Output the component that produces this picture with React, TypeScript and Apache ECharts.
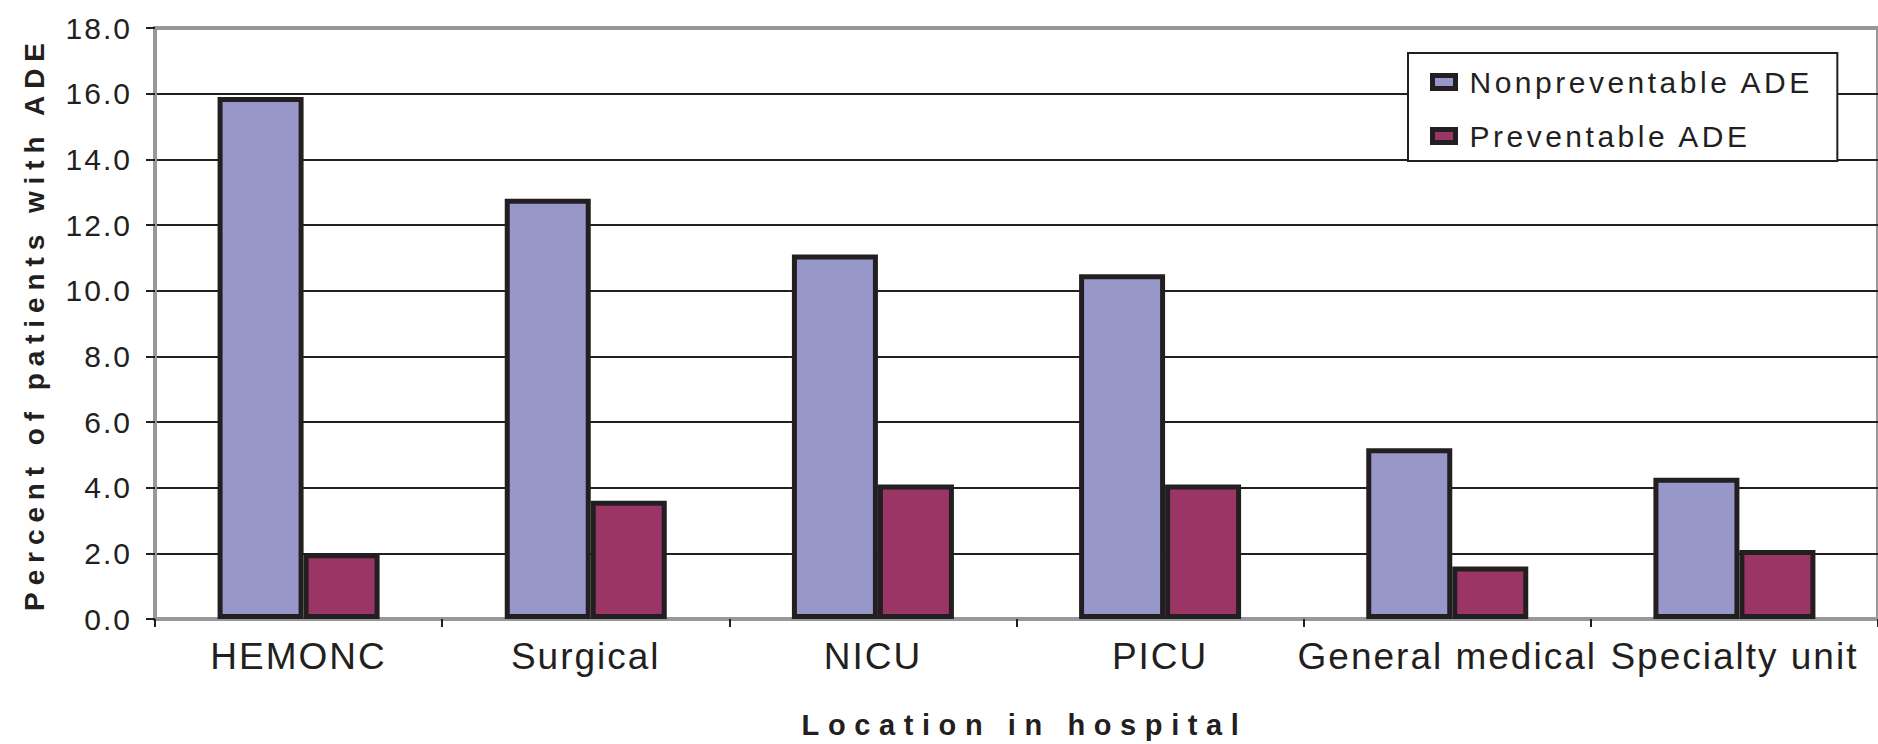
import { useEffect, useRef } from "react";
import * as echarts from "echarts";

// Hospital locations and ADE rates (% of patients)
const locations = ["HEMONC", "Surgical", "NICU", "PICU", "General medical", "Specialty unit"];
const nonpreventable = [15.9, 12.8, 11.1, 10.5, 5.2, 4.3];
const preventable = [2.0, 3.6, 4.1, 4.1, 1.6, 2.1];
const seriesNames = ["Nonpreventable ADE", "Preventable ADE"];
const yMin = 0;
const yMax = 18;
const yStep = 2;
const yTitle = "Percent of patients with ADE";
const xTitle = "Location in hospital";

const INK = "#231f20";
const GREY = "#98989a";
const FONT = "'Liberation Sans', Arial, Helvetica, sans-serif";

// Extra tracking for the SVG text nodes (ECharts has no letter-spacing option)
function trackingFor(t: string): number {
  if (t === yTitle) return 6.9;
  if (t === xTitle) return 8.6;
  if (seriesNames.includes(t)) return 3.5;
  if (locations.includes(t)) return 2;
  if (/^\d+\.\d$/.test(t)) return 2;
  return 0;
}

export default function App() {
  const ref = useRef<HTMLDivElement>(null);

  useEffect(() => {
    if (!ref.current) return;
    const chart = echarts.init(ref.current, undefined, { renderer: "svg" });

    const gridLineCount = Math.round((yMax - yMin) / yStep) + 1;
    const splitColors = Array.from({ length: gridLineCount }, (_, i) =>
      i === gridLineCount - 1 ? GREY : INK
    );

    chart.setOption({
      animation: false,
      backgroundColor: "#ffffff",
      textStyle: { fontFamily: FONT, color: INK },
      grid: {
        left: 155,
        right: -9,
        top: 28,
        bottom: 123,
        show: true,
        borderColor: GREY,
        borderWidth: 4,
        backgroundColor: "transparent",
      },
      legend: {
        orient: "vertical",
        left: 1408,
        top: 53,
        data: seriesNames,
        icon: "rect",
        itemWidth: 23,
        itemHeight: 13,
        itemGap: 24,
        padding: [14, 86, 10, 22],
        backgroundColor: "#ffffff",
        borderColor: INK,
        borderWidth: 2,
        borderRadius: 0,
        itemStyle: { borderColor: INK, borderWidth: 5 },
        textStyle: { fontSize: 30, fontFamily: FONT, color: INK, padding: [0, 0, 0, 9] },
      },
      xAxis: {
        type: "category",
        data: locations,
        offset: 3,
        axisLine: { show: true, lineStyle: { color: GREY, width: 3 } },
        axisTick: { show: true, length: 8, lineStyle: { color: INK, width: 2 } },
        axisLabel: { interval: 0, fontSize: 37, fontFamily: FONT, color: INK, margin: 16 },
        splitLine: { show: false },
        name: xTitle,
        nameLocation: "middle",
        nameGap: 88,
        nameTextStyle: {
          fontSize: 29,
          fontWeight: "bold",
          fontFamily: FONT,
          color: INK,
          padding: [0, 0, 0, 16],
        },
      },
      yAxis: {
        type: "value",
        min: yMin,
        max: yMax,
        interval: yStep,
        axisLine: { show: true, lineStyle: { color: GREY, width: 3 } },
        axisTick: { show: true, length: 9, lineStyle: { color: INK, width: 2 } },
        axisLabel: {
          formatter: (v: number) => v.toFixed(1),
          fontSize: 30,
          fontFamily: FONT,
          color: INK,
          margin: 23,
        },
        splitLine: { show: true, lineStyle: { color: splitColors, width: 2 } },
        name: yTitle,
        nameLocation: "middle",
        nameGap: 107,
        nameTextStyle: { fontSize: 28, fontWeight: "bold", fontFamily: FONT, color: INK },
      },
      series: [
        {
          name: seriesNames[0],
          type: "bar",
          data: nonpreventable,
          barWidth: 86,
          barGap: "0%",
          itemStyle: { color: "#9797c9", borderColor: INK, borderWidth: 5 },
          emphasis: { disabled: true },
        },
        {
          name: seriesNames[1],
          type: "bar",
          data: preventable,
          barWidth: 76,
          barGap: "0%",
          itemStyle: { color: "#9a3566", borderColor: INK, borderWidth: 5 },
          emphasis: { disabled: true },
        },
      ],
    });

    const applyTracking = () => {
      const el = ref.current;
      if (!el) return;
      el.querySelectorAll("text").forEach((node) => {
        const s = trackingFor((node.textContent || "").trim());
        if (s) (node as SVGTextElement).style.letterSpacing = `${s}px`;
      });
    };
    (chart.getZr() as any).flush?.();
    applyTracking();
    chart.on("finished", applyTracking);

    return () => {
      chart.dispose();
    };
  }, []);

  return (
    <div
      ref={ref}
      style={{ position: "absolute", left: 0, top: 0, width: 1878, height: 744 }}
    />
  );
}
